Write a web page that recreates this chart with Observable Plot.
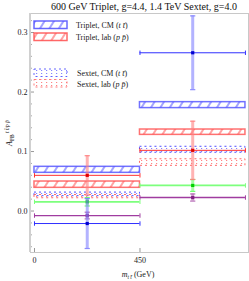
<!DOCTYPE html>
<html><head><meta charset="utf-8">
<script src="https://cdn.jsdelivr.net/npm/d3@7"></script>
<script src="https://cdn.jsdelivr.net/npm/@observablehq/plot@0.6"></script>
<style>body{margin:0;background:#fff} svg{font-family:"Liberation Serif",serif}</style>
</head><body><div id="chart"></div>
<script>
// ---- data ----
const binLo = [0, 450];
const binHi = [450, 900];
const binMid = [225, 675];
const tripCMLo = [0.0642, 0.173], tripCMHi = [0.0743, 0.183];
const tripLabLo = [0.039, 0.128], tripLabHi = [0.0496, 0.137];
const sexCMLo = [0.025, 0.098], sexCMHi = [0.031, 0.108];
const sexLabLo = [0.0215, 0.076], sexLabHi = [0.027, 0.087];
const blueVal = [-0.021, 0.266], blueErr = [0.042, 0.062];
const redVal = [0.060, 0.102], redErr = [0.033, 0.049];
const greenVal = [0.0155, 0.043], greenErr = [0.007, 0.010];
const purpleVal = [-0.0076, 0.0227], purpleErr = [0.0056, 0.006];
const yMajor = [0, 0.1, 0.2, 0.3];
const yMinor = [-0.06,-0.04,-0.02,0.02,0.04,0.06,0.08,0.12,0.14,0.16,0.18,0.22,0.24,0.26,0.28,0.32];
const xMajor = [0, 450];
const title = "600 GeV Triplet, g=4.4, 1.4 TeV Sextet, g=4.0";

// ---- build tables ----
const mkBoxes = (lo, hi, fill, stroke) => binLo.map((b, i) => ({x1: b, x2: binHi[i], y1: lo[i], y2: hi[i], fill, stroke}));
const hatchBoxes = [...mkBoxes(tripCMLo, tripCMHi, "url(#hatchB)", "#4d4dff"), ...mkBoxes(tripLabLo, tripLabHi, "url(#hatchR)", "#ff4d4d")];
const dotBoxesB = mkBoxes(sexCMLo, sexCMHi, "url(#dotB)", "#4d4dff");
const dotBoxesR = mkBoxes(sexLabLo, sexLabHi, "url(#dotR)", "#ff6666");

const series = [
  {val: purpleVal, err: purpleErr, line: "#a03ca0", bar: "#b060b0", mark: "#802080", lw: 1.3},
  {val: greenVal, err: greenErr, line: "#7dff7d", bar: "#66ff66", mark: "#00d000", lw: 1.8},
  {val: blueVal, err: blueErr, line: "#3030ff", bar: "#8080ff", mark: "#0000d0", lw: 1},
  {val: redVal, err: redErr, line: "#ff3030", bar: "#ff8080", mark: "#e00000", lw: 1},
];

const hbar = {draw(ctx, size){ const r = Math.sqrt(size / Math.PI); ctx.moveTo(-r, 0); ctx.lineTo(r, 0); }};
const vbar = {draw(ctx, size){ const r = Math.sqrt(size / Math.PI); ctx.moveTo(0, -r); ctx.lineTo(0, r); }};

const marks = [
  Plot.frame({stroke: "#c8c8c8"}),
  Plot.rect(hatchBoxes, {x1: "x1", x2: "x2", y1: "y1", y2: "y2", fill: d => d.fill, stroke: d => d.stroke, strokeWidth: 1.5, strokeOpacity: 0.8}),
  Plot.rect(dotBoxesB, {x1: "x1", x2: "x2", y1: "y1", y2: "y2", fill: d => d.fill, stroke: d => d.stroke, strokeWidth: 1, strokeDasharray: "2,3"}),
  Plot.rect(dotBoxesR, {x1: "x1", x2: "x2", y1: "y1", y2: "y2", fill: d => d.fill, stroke: d => d.stroke, strokeWidth: 1, strokeDasharray: "2,3"}),
];
series.forEach(s => {
  const d = binLo.map((b, i) => ({x1: b, x2: binHi[i], xm: binMid[i], v: s.val[i], lo: s.val[i] - s.err[i], hi: s.val[i] + s.err[i]}));
  marks.push(
    Plot.ruleX(d, {x: "xm", y1: "lo", y2: "hi", stroke: s.bar, strokeWidth: 3, strokeOpacity: 0.6}),
    Plot.dot(d, {x: "xm", y: "lo", symbol: hbar, r: 2.6, stroke: s.bar, strokeWidth: 1.2, strokeOpacity: 0.9}),
    Plot.dot(d, {x: "xm", y: "hi", symbol: hbar, r: 2.6, stroke: s.bar, strokeWidth: 1.2, strokeOpacity: 0.9}),
    Plot.ruleY(d, {y: "v", x1: "x1", x2: "x2", stroke: s.line, strokeWidth: s.lw}),
    Plot.dot(d, {x: "x1", y: "v", symbol: vbar, r: 2.2, stroke: s.line, strokeWidth: 1}),
    Plot.dot(d, {x: "x2", y: "v", symbol: vbar, r: 2.2, stroke: s.line, strokeWidth: 1}),
    Plot.dot(d, {x: "xm", y: "v", symbol: "square", r: 1.8, fill: s.mark, stroke: null})
  );
});
marks.push(
  Plot.axisY(yMajor, {tickSize: -4, tickPadding: 7, tickFormat: d => d.toFixed(1), fontSize: 8, stroke: "#999", fill: "#222", label: null}),
  Plot.axisY(yMinor, {tickSize: -2, tickFormat: () => "", stroke: "#aaa", label: null}),
  Plot.axisX(xMajor, {tickSize: -4, tickPadding: 9, fontSize: 8, stroke: "#999", fill: "#222", label: null})
);

const svg = Plot.plot({
  width: 249, height: 281,
  marginLeft: 30, marginRight: 1, marginTop: 13, marginBottom: 29,
  x: {domain: [-17, 913], axis: null},
  y: {domain: [-0.0697, 0.332], axis: null},
  style: {fontFamily: "Liberation Serif, serif", background: "#fff"},
  marks
});

// patterns
const defs = d3.select(svg).insert("defs", ":first-child");
function hatch(id, c){
  const p = defs.append("pattern").attr("id", id).attr("patternUnits", "userSpaceOnUse").attr("width", 8).attr("height", 8).attr("patternTransform", "rotate(32)");
  p.append("line").attr("x1", 1).attr("x2", 1).attr("y1", 0).attr("y2", 8).attr("stroke", c).attr("stroke-width", 1.1).attr("stroke-opacity", 0.85);
}
function dots(id, c){
  const p = defs.append("pattern").attr("id", id).attr("patternUnits", "userSpaceOnUse").attr("width", 5).attr("height", 3);
  p.append("rect").attr("x", 1).attr("y", 1).attr("width", 1.2).attr("height", 1).attr("fill", c).attr("fill-opacity", 0.7);
}
hatch("hatchB", "#3a3aff"); hatch("hatchR", "#ff3a3a");
dots("dotB", "#5050ff"); dots("dotR", "#ff5050");

const g = d3.select(svg).append("g").attr("text-anchor", "start");
g.append("line").attr("x1", 30).attr("x2", 30).attr("y1", 13).attr("y2", 252).attr("stroke", "#d0d0d0").attr("stroke-width", 2);
g.append("text").attr("x", 144).attr("y", 10).attr("text-anchor", "middle").attr("font-size", 10).attr("fill", "#111").text(title);

const leg = [
  {y: 21, fill: "url(#hatchB)", stroke: "#4d4dff", dash: null, label: "Triplet, CM (", a: "t t\u0304", tx: 76},
  {y: 33, fill: "url(#hatchR)", stroke: "#ff4d4d", dash: null, label: "Triplet, lab (", a: "p p\u0304", tx: 76},
  {y: 69, fill: "url(#dotB)", stroke: "#4d4dff", dash: "2,3", label: "Sextet, CM (", a: "t t\u0304", tx: 77},
  {y: 79.5, fill: "url(#dotR)", stroke: "#ff6666", dash: "2,3", label: "Sextet, lab (", a: "p p\u0304", tx: 77},
];
leg.forEach(l => {
  g.append("rect").attr("x", 34).attr("y", l.y).attr("width", 33).attr("height", 7.5).attr("fill", l.fill).attr("stroke", l.stroke)
    .attr("stroke-width", l.dash ? 1 : 1.5).attr("stroke-opacity", 0.85).attr("stroke-dasharray", l.dash);
  const t = g.append("text").attr("x", l.tx).attr("y", l.y + 7).attr("text-anchor", "start").attr("font-size", 8).attr("fill", "#222");
  t.append("tspan").text(l.label);
  t.append("tspan").attr("font-style", "italic").text(l.a);
  t.append("tspan").text(")");
});

const yl = g.append("text").attr("transform", "translate(12,133) rotate(-90)").attr("text-anchor", "middle").attr("font-size", 8).attr("fill", "#222");
yl.append("tspan").attr("font-style", "italic").text("A");
yl.append("tspan").attr("font-size", 5.5).attr("dy", 2).text("FB");
yl.append("tspan").attr("font-size", 5.5).attr("font-style", "italic").attr("dy", -5.5).text(" t t\u0304/p p\u0304");

const xl = g.append("text").attr("x", 138).attr("y", 277).attr("text-anchor", "middle").attr("font-size", 8).attr("fill", "#222");
xl.append("tspan").attr("font-style", "italic").text("m");
xl.append("tspan").attr("font-style", "italic").attr("font-size", 5.5).attr("dy", 2).text("t t\u0304");
xl.append("tspan").attr("dy", -2).text(" (GeV)");

document.getElementById("chart").append(svg);
</script>
</body></html>
